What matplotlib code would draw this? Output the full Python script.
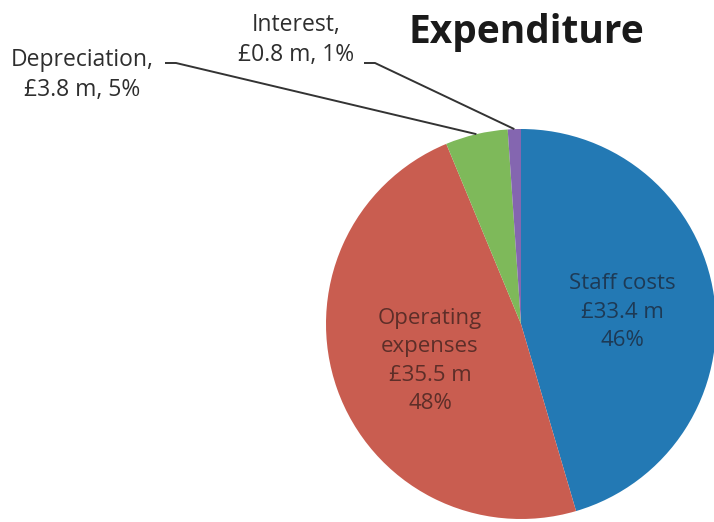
import numpy as np
import matplotlib
matplotlib.use("Agg")
from matplotlib import pyplot as plt

# data
names = ["Staff costs", "Operating expenses", "Depreciation", "Interest"]
values = [33.4, 35.5, 3.8, 0.8]          # £ m
percents = [46, 48, 5, 1]
colors = ["#2379b4", "#c95d50", "#7eb95a", "#8466b0"]

W, H = 714, 522
fig = plt.figure(figsize=(W / 100, H / 100), dpi=100)
ax = fig.add_axes([0, 0, 1, 1])

cx, cy, r = 521, H - 324, 195
wedges, _ = ax.pie(values, colors=colors, startangle=90, counterclock=False,
                   center=(cx, cy), radius=r, frame=True,
                   wedgeprops=dict(linewidth=0))
ax.set_xlim(0, W)
ax.set_ylim(0, H)
ax.set_aspect("equal")
ax.axis("off")

plt.rcParams["font.family"] = ["Open Sans", "DejaVu Sans"]
txt = "#2e2e2e"

# inside labels
ax.text(622, H - 312, "Staff costs\n£%.1f m\n%d%%" % (values[0], percents[0]),
        ha="center", va="center", fontsize=16, color="#1d2f45",
        linespacing=1.45, alpha=0.85)
ax.text(430, H - 361, "Operating\nexpenses\n£%.1f m\n%d%%" % (values[1], percents[1]),
        ha="center", va="center", fontsize=16, color="#4a2622",
        linespacing=1.45, alpha=0.85)

# outside labels with leader lines
def leader(i, lx):
    w = wedges[i]
    ang = np.deg2rad((w.theta1 + w.theta2) / 2)
    ex, ey = cx + r * np.cos(ang), cy + r * np.sin(ang)
    ax.plot([lx, lx + 11, ex], [H - 63, H - 63, ey], color="#333333", lw=1.4,
            solid_capstyle="butt")

ax.text(82, H - 75, "%s,\n£%.1f m, %d%%" % (names[2], values[2], percents[2]),
        ha="center", va="center", fontsize=16.5, color=txt, linespacing=1.3)
leader(2, 165)
ax.text(296, H - 40, "%s,\n£%.1f m, %d%%" % (names[3], values[3], percents[3]),
        ha="center", va="center", fontsize=16.5, color=txt, linespacing=1.3)
leader(3, 364)

ax.text(526, H - 33, "Expenditure", ha="center", va="center",
        fontsize=28, fontweight="bold", color="#1a1a1a")

fig.savefig("out.png", dpi=100, facecolor="white")
